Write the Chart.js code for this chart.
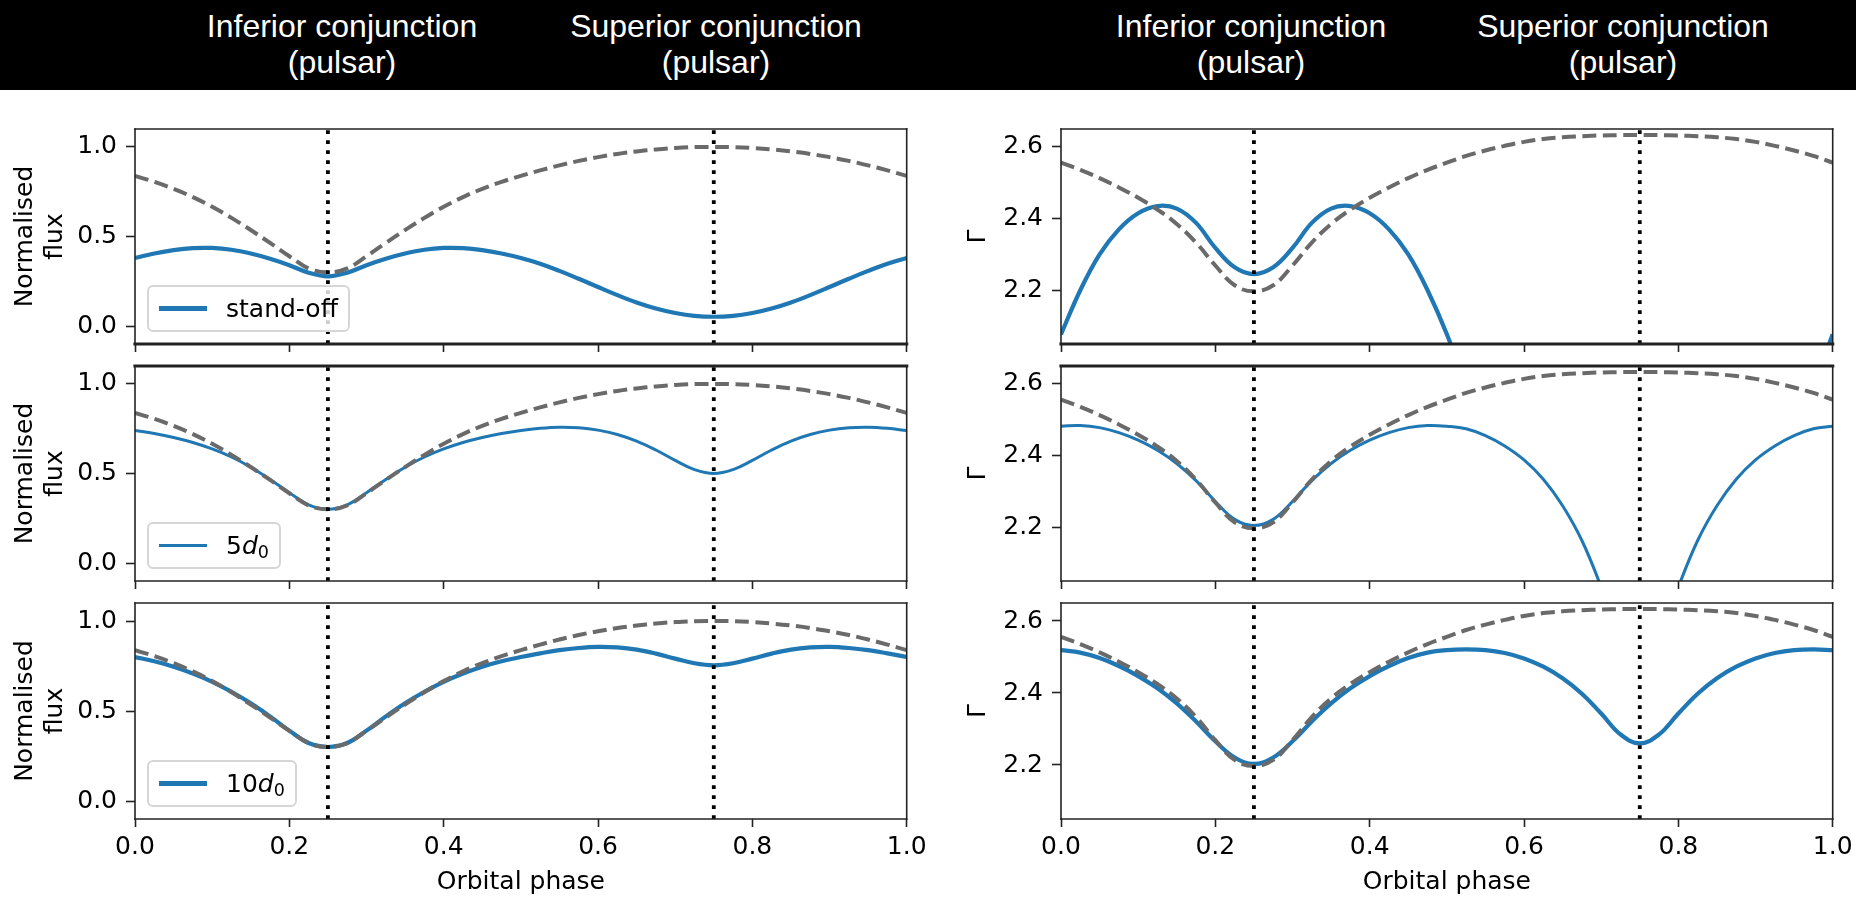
<!DOCTYPE html>
<html>
<head>
<meta charset="utf-8">
<title>Orbital modulation of flux and photon index</title>
<script src="https://cdn.jsdelivr.net/npm/chart.js@4.4.1/dist/chart.umd.min.js"></script>
<style>
  html, body { margin: 0; padding: 0; background: #fff; }
  #page { position: relative; width: 1856px; height: 898px; overflow: hidden; background: #fff; }
  #banner { position: absolute; left: 0; top: 0; width: 1856px; height: 90px; background: #000; }
  .event { position: absolute; top: 8px; transform: translateX(-50%); color: #fff;
           font-family: 'Liberation Sans', Arial, sans-serif; font-size: 32px; line-height: 36px;
           text-align: center; white-space: nowrap; }
  canvas { position: absolute; }
  .legend { position: absolute; display: flex; align-items: center; box-sizing: border-box;
            padding: 8px 10px; border: 2px solid #d6d6d6; border-radius: 6px;
            background: rgba(255,255,255,0.8); font-family: 'DejaVu Sans', sans-serif;
            font-size: 25px; line-height: 27px; color: #000; white-space: nowrap; }
  .legend .handle { display: inline-block; width: 48px; margin-right: 19px; background: #1f77b4; }
  .legend sub { font-size: 70%; vertical-align: -0.25em; line-height: 0; }
</style>
</head>
<body>
<div id="page">
  <div id="banner"></div>
</div>
<script>
// ---- data -------------------------------------------------------------
const phase = [0.000, 0.025, 0.050, 0.075, 0.100, 0.125, 0.150, 0.175, 0.200, 0.225,
               0.250, 0.275, 0.300, 0.325, 0.350, 0.375, 0.400, 0.425, 0.450, 0.475,
               0.500, 0.525, 0.550, 0.575, 0.600, 0.625, 0.650, 0.675, 0.700, 0.725,
               0.750, 0.775, 0.800, 0.825, 0.850, 0.875, 0.900, 0.925, 0.950, 0.975, 1.000];

// normalised flux: unperturbed model (grey dashed) and the three shock distances
const fluxModel = [0.838, 0.805, 0.766, 0.720, 0.666, 0.604, 0.536, 0.464, 0.390, 0.322,
                   0.300, 0.322, 0.390, 0.464, 0.536, 0.604, 0.666, 0.720, 0.766, 0.805,
                   0.838, 0.869, 0.897, 0.922, 0.943, 0.961, 0.975, 0.986, 0.994, 0.999,
                   1.000, 0.999, 0.994, 0.986, 0.975, 0.961, 0.943, 0.922, 0.897, 0.869, 0.838];
const fluxStandoff = [0.380, 0.405, 0.424, 0.435, 0.436, 0.426, 0.405, 0.376, 0.340, 0.298,
                      0.278, 0.298, 0.340, 0.376, 0.405, 0.426, 0.436, 0.435, 0.424, 0.405,
                      0.380, 0.348, 0.308, 0.264, 0.218, 0.173, 0.132, 0.098, 0.073, 0.057,
                      0.052, 0.057, 0.073, 0.098, 0.132, 0.173, 0.218, 0.264, 0.308, 0.348, 0.380];
const flux5d0 = [0.740, 0.723, 0.701, 0.673, 0.637, 0.592, 0.535, 0.467, 0.393, 0.325,
                 0.300, 0.325, 0.393, 0.467, 0.535, 0.592, 0.637, 0.673, 0.701, 0.723,
                 0.740, 0.752, 0.758, 0.755, 0.742, 0.718, 0.681, 0.631, 0.573, 0.522,
                 0.500, 0.522, 0.573, 0.631, 0.681, 0.718, 0.742, 0.755, 0.758, 0.752, 0.740];
const flux10d0 = [0.800, 0.776, 0.746, 0.708, 0.662, 0.607, 0.543, 0.470, 0.391, 0.322,
                  0.300, 0.322, 0.391, 0.470, 0.543, 0.607, 0.662, 0.708, 0.746, 0.776,
                  0.800, 0.820, 0.838, 0.850, 0.856, 0.853, 0.841, 0.819, 0.791, 0.765,
                  0.754, 0.765, 0.791, 0.819, 0.841, 0.853, 0.856, 0.850, 0.838, 0.820, 0.800];

// photon index Gamma: unperturbed model and the three shock distances
const gammaModel = [2.556, 2.536, 2.513, 2.487, 2.458, 2.425, 2.385, 2.333, 2.269, 2.214,
                    2.197, 2.214, 2.269, 2.333, 2.385, 2.425, 2.458, 2.487, 2.513, 2.536,
                    2.556, 2.575, 2.590, 2.603, 2.614, 2.622, 2.627, 2.630, 2.632, 2.633,
                    2.633, 2.633, 2.632, 2.630, 2.627, 2.622, 2.614, 2.603, 2.590, 2.575, 2.556];
const gammaStandoff = [2.077, 2.200, 2.300, 2.370, 2.415, 2.435, 2.428, 2.388, 2.318, 2.264,
                       2.245, 2.264, 2.318, 2.388, 2.428, 2.435, 2.415, 2.370, 2.300, 2.200,
                       2.077, 1.930, 1.770, 1.620, 1.490, 1.390, 1.310, 1.250, 1.210, 1.190,
                       1.180, 1.190, 1.210, 1.250, 1.310, 1.390, 1.490, 1.620, 1.770, 1.930, 2.077];
const gamma5d0 = [2.482, 2.484, 2.478, 2.464, 2.443, 2.415, 2.378, 2.330, 2.272, 2.222,
                  2.205, 2.222, 2.272, 2.330, 2.378, 2.415, 2.443, 2.464, 2.478, 2.484,
                  2.482, 2.475, 2.456, 2.427, 2.388, 2.334, 2.260, 2.163, 2.033, 1.885,
                  1.820, 1.885, 2.033, 2.163, 2.260, 2.334, 2.388, 2.427, 2.456, 2.475, 2.482];
const gamma10d0 = [2.519, 2.512, 2.497, 2.475, 2.447, 2.413, 2.371, 2.321, 2.266, 2.221,
                   2.203, 2.221, 2.266, 2.321, 2.371, 2.413, 2.447, 2.475, 2.497, 2.512,
                   2.519, 2.521, 2.519, 2.511, 2.496, 2.473, 2.441, 2.398, 2.343, 2.285,
                   2.260, 2.285, 2.343, 2.398, 2.441, 2.473, 2.496, 2.511, 2.519, 2.521, 2.519];

const seriesLabels = ['stand-off', '5$d_0$', '10$d_0$'];
const conjunctionPhases = [0.25, 0.75];
const conjunctionNames = ['Inferior conjunction', 'Superior conjunction'];
const conjunctionBody = '(pulsar)';

const phaseTicks = [0.0, 0.2, 0.4, 0.6, 0.8, 1.0];
const fluxTicks = [0.0, 0.5, 1.0];
const gammaTicks = [2.2, 2.4, 2.6];
const fluxRange = [-0.1, 1.1];
const gammaRange = [2.05, 2.65];
const fluxTitle = ['Normalised', 'flux'];
const gammaTitle = 'Γ';
const phaseTitle = 'Orbital phase';

// ---- layout & style ----------------------------------------------------
const columns = [
  { model: fluxModel, series: [fluxStandoff, flux5d0, flux10d0], ticks: fluxTicks, range: fluxRange, title: fluxTitle, legend: true },
  { model: gammaModel, series: [gammaStandoff, gamma5d0, gamma10d0], ticks: gammaTicks, range: gammaRange, title: gammaTitle, legend: false }
];
const colBox = [
  { x: 0,   w: 935, areaL: 135,  areaR: 906.7,  titlePad: 10, bannerX: [342, 716] },
  { x: 935, w: 921, areaL: 1061, areaR: 1832.7, titlePad: 28, bannerX: [1251, 1623] }
];
const rowBox = [
  { y: 100, h: 255, areaT: 129, areaB: 344, frameTop: 1.6, frameBottom: 3.2 },
  { y: 345, h: 247, areaT: 366, areaB: 581, frameTop: 3.2, frameBottom: 1.6 },
  { y: 592, h: 306, areaT: 603, areaB: 819, frameTop: 1.6, frameBottom: 1.6 }
];
const seriesWidth = [4.2, 3.0, 4.2];
const BLUE = '#1f77b4';
const GREY = '#6a6a6a';
const INK = '#222';

Chart.defaults.font.family = "'DejaVu Sans', sans-serif";
Chart.defaults.font.size = 25;
Chart.defaults.color = '#000';

const page = document.getElementById('page');
const banner = document.getElementById('banner');

// axes frame drawn over the curves
const framePlugin = {
  id: 'frame',
  afterDraw(chart, args, o) {
    const { ctx, chartArea: a } = chart;
    ctx.save();
    ctx.strokeStyle = o.color;
    ctx.lineCap = 'square';
    const seg = (w, x1, y1, x2, y2) => {
      ctx.lineWidth = w; ctx.beginPath(); ctx.moveTo(x1, y1); ctx.lineTo(x2, y2); ctx.stroke();
    };
    seg(o.left, a.left, a.top, a.left, a.bottom);
    seg(o.right, a.right, a.top, a.right, a.bottom);
    seg(o.top, a.left, a.top, a.right, a.top);
    seg(o.bottom, a.left, a.bottom, a.right, a.bottom);
    ctx.restore();
  }
};

function appendLabel(el, label) {
  label.split('$').forEach((part, k) => {
    if (k % 2 === 0) { if (part) el.appendChild(document.createTextNode(part)); return; }
    const re = /([A-Za-z])|_(\w)|([^A-Za-z_]+)/g;
    let m;
    while ((m = re.exec(part))) {
      if (m[1]) { const i = document.createElement('i'); i.textContent = m[1]; el.appendChild(i); }
      else if (m[2]) { const s = document.createElement('sub'); s.textContent = m[2]; el.appendChild(s); }
      else el.appendChild(document.createTextNode(m[3]));
    }
  });
}

function zeroPad(s) { s.paddingLeft = 0; s.paddingRight = 0; s.paddingTop = 0; s.paddingBottom = 0; }

function makePanel(ci, ri) {
  const col = columns[ci], cb = colBox[ci], rb = rowBox[ri];
  const lastRow = ri === rowBox.length - 1;
  const canvas = document.createElement('canvas');
  canvas.width = cb.w; canvas.height = rb.h;
  canvas.style.left = cb.x + 'px'; canvas.style.top = rb.y + 'px';
  canvas.style.width = cb.w + 'px'; canvas.style.height = rb.h + 'px';
  page.appendChild(canvas);

  const pts = vals => phase.map((p, i) => ({ x: p, y: vals[i] }));
  const datasets = [];
  conjunctionPhases.forEach(p => datasets.push({
    data: [{ x: p, y: col.range[0] }, { x: p, y: col.range[1] }],
    borderColor: '#000', borderWidth: 3.8, borderDash: [3.8, 6.2], borderCapStyle: 'butt',
    pointRadius: 0, tension: 0
  }));
  datasets.push({
    data: pts(col.model), borderColor: GREY, borderWidth: 4.0, borderDash: [14, 6.4],
    borderCapStyle: 'butt', pointRadius: 0, tension: 0.4
  });
  datasets.push({
    label: seriesLabels[ri], data: pts(col.series[ri]), borderColor: BLUE,
    borderWidth: seriesWidth[ri], pointRadius: 0, tension: 0.4
  });

  const chart = new Chart(canvas, {
    type: 'line',
    data: { datasets },
    options: {
      responsive: false, animation: false, devicePixelRatio: 1,
      layout: { padding: { left: 0, top: rb.areaT - rb.y, right: cb.x + cb.w - cb.areaR, bottom: 0 } },
      plugins: {
        legend: { display: false }, tooltip: { enabled: false },
        frame: { color: INK, left: 1.6, right: 1.6, top: rb.frameTop, bottom: rb.frameBottom }
      },
      scales: {
        x: {
          type: 'linear', min: 0, max: 1,
          afterBuildTicks: s => { s.ticks = phaseTicks.map(v => ({ value: v })); },
          afterFit: s => { s.height = rb.y + rb.h - rb.areaB; zeroPad(s); },
          grid: { drawOnChartArea: false, drawTicks: true, tickLength: 8, tickWidth: 1.6, tickColor: INK },
          border: { display: false },
          ticks: { display: lastRow, padding: 5, maxRotation: 0, autoSkip: false, callback: v => v.toFixed(1) },
          title: { display: lastRow, text: phaseTitle, padding: { top: 0, bottom: 1 } }
        },
        y: {
          type: 'linear', min: col.range[0], max: col.range[1],
          afterBuildTicks: s => { s.ticks = col.ticks.map(v => ({ value: v })); },
          afterFit: s => { s.width = cb.areaL - cb.x; zeroPad(s); },
          grid: { drawOnChartArea: false, drawTicks: true, tickLength: 9, tickWidth: 1.6, tickColor: INK },
          border: { display: false },
          ticks: { padding: 9, callback: v => v.toFixed(1) },
          title: { display: true, text: col.title, padding: { top: cb.titlePad, bottom: 0 } }
        }
      }
    },
    plugins: [framePlugin]
  });

  if (col.legend) {
    const a = chart.chartArea;
    const box = document.createElement('div');
    box.className = 'legend';
    const handle = document.createElement('span');
    handle.className = 'handle';
    handle.style.height = seriesWidth[ri] + 'px';
    box.appendChild(handle);
    const text = document.createElement('span');
    appendLabel(text, seriesLabels[ri]);
    box.appendChild(text);
    page.appendChild(box);
    box.style.left = (cb.x + a.left + 12) + 'px';
    box.style.top = (rb.y + a.bottom - 12 - box.offsetHeight) + 'px';
  }
}

// banner labels for the two conjunctions above each column
colBox.forEach(cb => conjunctionNames.forEach((name, k) => {
  const d = document.createElement('div');
  d.className = 'event';
  d.style.left = cb.bannerX[k] + 'px';
  const l1 = document.createElement('div'); l1.textContent = name;
  const l2 = document.createElement('div'); l2.textContent = conjunctionBody;
  d.appendChild(l1); d.appendChild(l2);
  banner.appendChild(d);
}));

columns.forEach((c, ci) => rowBox.forEach((r, ri) => makePanel(ci, ri)));
</script>
</body>
</html>
